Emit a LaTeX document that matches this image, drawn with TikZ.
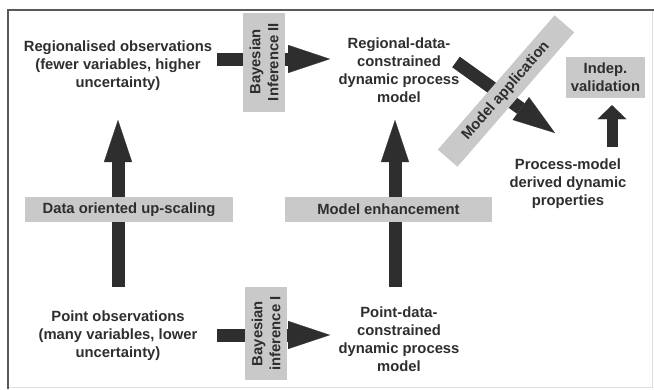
\documentclass[tikz,border=0pt]{standalone}
\usepackage{fontspec}
\setmainfont{Liberation Sans}
\usetikzlibrary{arrows.meta,positioning}
\definecolor{inkgray}{HTML}{2E2E2E}
\definecolor{tagfill}{HTML}{C9C9C9}

\begin{document}
\begin{tikzpicture}[
    x=1pt, y=-1pt,
    font=\bfseries\fontsize{14.8}{18}\selectfont,
    txt/.style       ={text=inkgray, align=center, inner sep=0pt},
    tag/.style       ={fill=tagfill, text=inkgray, align=center, inner sep=0pt},
    bigarrow/.style  ={draw=inkgray, line width=13pt,
                       -{Triangle[length=42pt, width=28pt, line width=0.1pt]}},
    smallarrow/.style={draw=inkgray, line width=11pt,
                       -{Triangle[length=14pt, width=29pt, line width=0.1pt]}},
]
\useasboundingbox (0,0) rectangle (654,389);

% ---- Frame ----
\draw[gray!25, line width=1pt] (8,387) -- (652,387) -- (652,10);
\draw[black!65, line width=1.3pt] (8,389) -- (8,10) -- (654,10);

% ---- Observations and models ----
\node[txt] (regobs)   at (118,66)  {Regionalised observations\\(fewer variables, higher\\uncertainty)};
\node[txt] (ptobs)    at (118,336) {Point observations\\(many variables, lower\\uncertainty)};
\node[txt] (regmodel) at (399,70)  {Regional-data-\\constrained\\dynamic process\\model};
\node[txt] (ptmodel)  at (399,339) {Point-data-\\constrained\\dynamic process\\model};
\node[txt] (derived)  at (568,184) {Process-model\\derived dynamic\\properties};

% ---- Arrows ----
\draw[bigarrow] ([xshift=99pt, yshift=7pt]regobs.center) -- ([xshift=-69pt, yshift=11pt]regmodel.center);
\draw[bigarrow] ([xshift=99pt, yshift=1pt]ptobs.center)  -- ([xshift=-69pt, yshift=4pt]ptmodel.center);
\draw[bigarrow] ([yshift=49pt]ptobs.center) -- ([yshift=-54pt]regobs.center);
\draw[bigarrow] ([xshift=-4pt, yshift=52pt]ptmodel.center) -- ([xshift=-4pt, yshift=-50pt]regmodel.center);
\draw[bigarrow] ([xshift=57pt, yshift=8pt]regmodel.center) -- ([xshift=-13pt, yshift=51pt]derived.center);

% ---- Labels ----
\node[tag, rotate=90, minimum width=99pt, minimum height=42pt] (bayes2) at (264,62)    {Bayesian\\Inference II};
\node[tag, rotate=90, minimum width=93pt, minimum height=42pt] (bayes1) at (266,333.5) {Bayesian\\inference I};
\node[tag, minimum width=208pt, minimum height=25pt] (upscale) at (129,209.5) {Data oriented up-scaling};
\node[tag, minimum width=207pt, minimum height=25pt] (enhance) at (388.5,209.5) {Model enhancement};
\node[tag, rotate=49, minimum width=178pt, minimum height=26pt] (apply) at (506,91) {Model application};
\node[tag, minimum width=79pt, minimum height=41pt] (indep) at (605.5,77.5) {Indep.\\validation};

\draw[smallarrow] ([xshift=44pt, yshift=37pt]derived.center) -- ([xshift=6.5pt, yshift=-7pt]indep.south);

\end{tikzpicture}
\end{document}
